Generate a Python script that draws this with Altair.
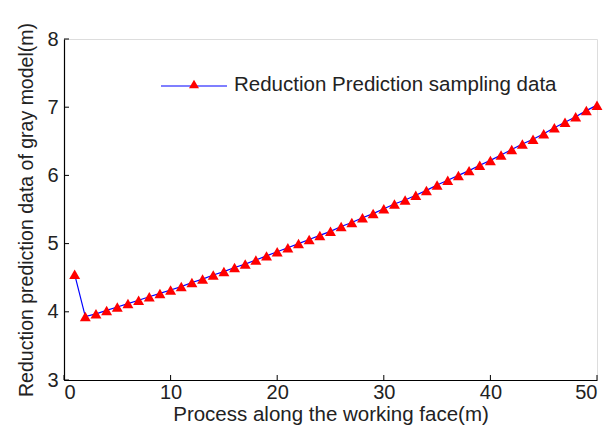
import altair as alt
import pandas as pd

x_vals = list(range(1, 51))
y_vals = [4.55, 3.93, 3.97, 4.02, 4.07, 4.12, 4.17, 4.22, 4.27, 4.32,
          4.37, 4.43, 4.48, 4.54, 4.59, 4.65, 4.70, 4.76, 4.82, 4.88,
          4.94, 5.00, 5.06, 5.12, 5.18, 5.25, 5.31, 5.38, 5.44, 5.51,
          5.58, 5.64, 5.71, 5.78, 5.86, 5.93, 6.00, 6.07, 6.15, 6.22,
          6.30, 6.38, 6.46, 6.53, 6.61, 6.70, 6.78, 6.86, 6.95, 7.03]
x_ticks = [0, 10, 20, 30, 40, 50]
y_ticks = [3, 4, 5, 6, 7, 8]
legend_label = "Reduction Prediction sampling data"

W, H = 533, 341
FONT = "Liberation Sans"

df = pd.DataFrame({"x": x_vals, "y": y_vals})
xt = pd.DataFrame({"v": x_ticks})
yt = pd.DataFrame({"v": y_ticks})

xs = alt.Scale(domain=[0, 50], nice=False)
ys = alt.Scale(domain=[3, 8], nice=False)

xaxis = alt.Axis(values=x_ticks, format="d", title="Process along the working face(m)",
                 grid=False, ticks=False, domainColor="black", domainWidth=1.2,
                 labelFont=FONT, labelFontSize=20, labelColor="#222",
                 labelPadding=2, titleFont=FONT, titleFontSize=20.5,
                 titleFontWeight="normal", titleColor="#222", titlePadding=2)
yaxis = alt.Axis(values=y_ticks, format="d", title="Reduction prediction data of gray model(m)",
                 grid=False, ticks=False, domainColor="black", domainWidth=1.2,
                 labelFont=FONT, labelFontSize=20, labelColor="#222",
                 labelPadding=6, titleFont=FONT, titleFontSize=19.5,
                 titleFontWeight="normal", titleColor="#222", titlePadding=10)

base = alt.Chart(df)
line = base.mark_line(color="blue", strokeWidth=1.2).encode(
    x=alt.X("x:Q", scale=xs, axis=xaxis),
    y=alt.Y("y:Q", scale=ys, axis=yaxis),
)
pts = base.mark_point(shape="triangle-up", filled=True, color="red",
                      size=120, opacity=1).encode(
    x=alt.X("x:Q", scale=xs), y=alt.Y("y:Q", scale=ys))

xtick = alt.Chart(xt).mark_rule(color="black", strokeWidth=1).encode(
    x=alt.X("v:Q", scale=xs), y=alt.value(H), y2=alt.value(H - 5))
ytick = alt.Chart(yt).mark_rule(color="black", strokeWidth=1).encode(
    y=alt.Y("v:Q", scale=ys), x=alt.value(0), x2=alt.value(5))

leg_df = pd.DataFrame({"label": [legend_label]})
leg_line = alt.Chart(leg_df).mark_rule(color="blue", strokeWidth=1.2).encode(
    x=alt.value(97), x2=alt.value(163), y=alt.value(47))
leg_pt = alt.Chart(leg_df).mark_point(shape="triangle-up", filled=True,
                                      color="red", size=100, opacity=1).encode(
    x=alt.value(130), y=alt.value(45))
leg_txt = alt.Chart(leg_df).mark_text(align="left", baseline="middle",
                                      font=FONT, fontSize=20.5, color="#222").encode(
    x=alt.value(170), y=alt.value(46), text="label:N")

chart = alt.layer(line, pts, xtick, ytick, leg_line, leg_pt, leg_txt).properties(
    width=W, height=H,
    autosize=alt.AutoSizeParams(type="none"),
    padding={"left": 64, "top": 39, "right": 10, "bottom": 57},
).configure_view(stroke=None).configure(background="white")

chart.save("out.html", embed_options={"renderer": "svg", "actions": False})
